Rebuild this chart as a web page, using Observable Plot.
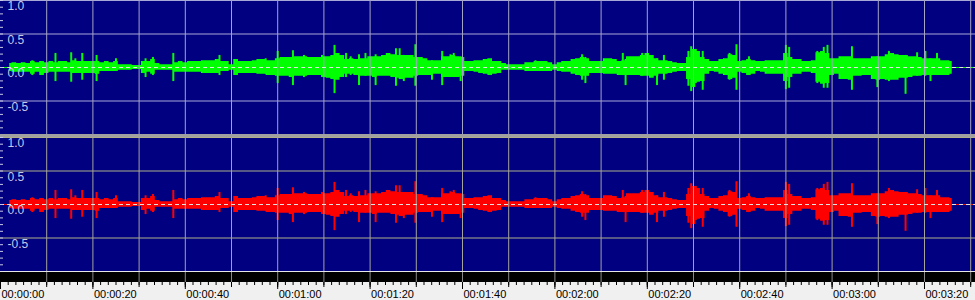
<!DOCTYPE html>
<html><head><meta charset="utf-8">
<script src="https://cdn.jsdelivr.net/npm/d3@7"></script>
<script src="https://cdn.jsdelivr.net/npm/@observablehq/plot@0.6"></script>
<style>
html,body{margin:0;padding:0;background:#f0f0f0;}
#chart{width:975px;height:300px;overflow:hidden;}
#chart svg{display:block;}
.sep{height:3px;background:#a0a0a0;}
.wline{height:1px;background:#e6e6e6;}
</style></head><body><div id="chart"></div>
<script>
// Waveform envelope, one value per second starting at t = 2 s (amplitude, full scale = 1)
const startTime = 2;
const upper = [
.06,.07,.06,.07,.06,.09,.07,.09,.07,.09,
.07,.09,.09,.07,.10,.09,.09,.09,.09,.09,
.07,.09,.07,.09,.04,.04,.04,.03,.03,.09,
.09,.12,.06,.04,.04,.04,.07,.09,.07,.09,
.09,.09,.10,.10,.10,.12,.09,.09,.04,.12,
.09,.09,.09,.10,.12,.12,.10,.10,.13,.15,
.15,.15,.16,.16,.16,.15,.15,.15,.16,.16,
.18,.21,.18,.12,.13,.12,.13,.13,.16,.16,
.16,.18,.21,.19,.18,.18,.18,.18,.15,.15,
.13,.10,.10,.10,.16,.16,.18,.16,.15,.09,
.09,.10,.10,.12,.13,.09,.09,.06,.04,.04,
.04,.04,.07,.07,.09,.09,.09,.07,.04,.07,
.09,.09,.12,.13,.15,.13,.09,.09,.09,.13,
.13,.12,.09,.10,.16,.16,.16,.18,.21,.18,
.13,.10,.10,.09,.07,.06,.06,.15,.27,.24,
.15,.12,.09,.09,.12,.13,.19,.18,.09,.10,
.12,.10,.09,.09,.10,.10,.10,.10,.21,.15,
.12,.12,.09,.09,.10,.22,.24,.21,.13,.13,
.16,.16,.16,.13,.13,.13,.13,.16,.16,.16,
.19,.21,.19,.18,.18,.16,.16,.15,.13,.13,
.13,.13,.10,.10,.09
];
const lower = [
.06,.07,.07,.07,.07,.10,.07,.12,.09,.07,
.07,.07,.07,.07,.09,.09,.09,.09,.09,.10,
.06,.06,.06,.06,.04,.04,.04,.03,.03,.09,
.07,.10,.04,.04,.04,.04,.07,.07,.07,.07,
.07,.07,.09,.09,.09,.09,.06,.06,.04,.12,
.09,.09,.09,.09,.10,.10,.12,.12,.13,.13,
.13,.15,.13,.13,.13,.12,.12,.12,.15,.16,
.18,.19,.15,.10,.10,.12,.13,.13,.13,.15,
.13,.13,.13,.15,.16,.18,.16,.16,.13,.12,
.12,.12,.10,.10,.15,.15,.15,.15,.13,.06,
.06,.07,.09,.10,.12,.10,.09,.04,.04,.04,
.04,.04,.06,.06,.06,.06,.06,.06,.04,.06,
.07,.07,.10,.12,.13,.13,.09,.09,.09,.10,
.10,.10,.12,.12,.12,.12,.12,.13,.13,.16,
.13,.10,.10,.09,.07,.06,.06,.18,.30,.22,
.21,.10,.06,.07,.10,.12,.18,.16,.07,.09,
.12,.10,.06,.07,.10,.10,.10,.10,.21,.15,
.10,.10,.07,.07,.09,.22,.25,.24,.12,.10,
.18,.18,.19,.13,.13,.12,.12,.18,.19,.18,
.19,.19,.19,.16,.16,.15,.13,.13,.12,.12,
.12,.12,.12,.12,.10
];
// Narrow peaks
const spikeTimes = [6.9,11.9,15.3,16.2,17.7,20.8,25.0,31.4,33.0,37.4,47.4,57.4,60.0,63.3,65.7,69.6,72.3,74.8,75.8,77.6,79.0,81.2,85.6,86.4,87.3,89.8,93.4,95.6,97.4,98.1,99.6,115.8,125.9,126.6,134.7,135.3,138.9,142.1,143.6,148.9,149.5,150.5,152.0,157.8,159.3,162.0,170.0,170.7,176.8,178.2,179.0,184.3,189.8,192.3,195.9,198.4,200.2,201.3,202.7];
const spikeUp    = [.10,.21,.22,.13,.21,.18,.13,.13,.15,.21,.18,.13,.24,.25,.18,.18,.33,.21,.16,.19,.21,.19,.28,.28,.18,.34,.10,.24,.19,.21,.16,.10,.19,.15,.21,.12,.21,.13,.18,.24,.31,.27,.24,.21,.34,.16,.33,.30,.24,.30,.33,.31,.16,.24,.18,.22,.24,.13,.21];
const spikeLow   = [.12,.21,.22,.09,.19,.21,.06,.15,.12,.21,.12,.10,.24,.27,.15,.13,.39,.15,.12,.27,.13,.27,.28,.18,.21,.28,.19,.27,.15,.15,.21,.06,.19,.24,.12,.27,.13,.27,.19,.28,.36,.24,.34,.19,.34,.12,.33,.31,.24,.31,.31,.34,.30,.21,.40,.13,.13,.21,.12];

const gridTimes = [10,20,30,40,50,60,70,80,90,100,110,120,130,140,150,160,170,180,190,200,210];
const yGrid = [1, 0.5, -0.5, -1];
const yLabelValues = [1, 0.5, 0, -0.5];
const yLabelText = ["1.0", "0.5", "0.0", "-0.5"];
const yMinor = [-1,-0.9,-0.8,-0.7,-0.6,-0.5,-0.4,-0.3,-0.2,-0.1,0,0.1,0.2,0.3,0.4,0.5,0.6,0.7,0.8,0.9,1];
const labelTimes = [0,20,40,60,80,100,120,140,160,180,200];
const timeLabels = ["00:00:00","00:00:20","00:00:40","00:01:00","00:01:20","00:01:40","00:02:00","00:02:20","00:02:40","00:03:00","00:03:20"];
const minorTimes = d3.range(0, 211, 10/6);

const xDomain = [0, 975 / 4.62];
const samples = upper.map((u, i) => ({t: startTime + i, up: u, low: -lower[i]}));
const spikes = spikeTimes.map((t, i) => ({t, up: spikeUp[i], low: -spikeLow[i]}));
const font = "'Liberation Sans', Arial, sans-serif";

function channel(color, hColor, vColor, textColor) {
  return Plot.plot({
    width: 975, height: 134, margin: 0,
    x: {domain: xDomain, axis: null},
    y: {domain: [-1, 1], axis: null},
    style: {background: "#000080", overflow: "hidden"},
    marks: [
      Plot.ruleY([0], {stroke: color}),
      Plot.areaY(samples, {x: "t", y1: "low", y2: "up", curve: "step", fill: color}),
      Plot.ruleX(spikes, {x: "t", y1: "low", y2: "up", stroke: color, strokeWidth: 2}),
      Plot.ruleY(yGrid, {stroke: hColor}),
      Plot.ruleX(gridTimes, {stroke: vColor}),
      Plot.ruleY([0], {stroke: "#e4e4e4", strokeDasharray: "4,3"}),
      Plot.tickY(yMinor, {y: d => d, insetRight: 972, stroke: textColor}),
      Plot.text(yLabelValues, {y: d => d, text: (d, i) => yLabelText[i], frameAnchor: "left", dx: 7, dy: 1,
        lineAnchor: "top", textAnchor: "start", fill: textColor, fontSize: 12, fontFamily: font})
    ]
  });
}

const band = Plot.plot({
  width: 975, height: 10, margin: 0,
  x: {domain: xDomain, axis: null},
  style: {background: "#000000"},
  marks: [Plot.ruleX(gridTimes, {stroke: "#8a8a8a"})]
});

const ruler = Plot.plot({
  width: 975, height: 18, margin: 0,
  x: {domain: xDomain, axis: null},
  style: {background: "#f0f0f0", overflow: "visible"},
  marks: [
    Plot.ruleX(minorTimes, {stroke: "#000", insetBottom: 15}),
    Plot.ruleX(gridTimes, {stroke: "#000", insetBottom: 13}),
    Plot.ruleX(labelTimes, {stroke: "#000", insetBottom: 11}),
    Plot.text(labelTimes, {x: d => d, text: (d, i) => timeLabels[i], frameAnchor: "bottom", lineAnchor: "bottom",
      dy: -3, dx: 1, textAnchor: "start", fill: "#000", fontSize: 11, fontFamily: font})
  ]
});

const root = document.getElementById("chart");
root.append(channel("#00ff00", "#a8a8d8", "#a4a4c4", "#c8c8e8"));
const sep = document.createElement("div"); sep.className = "sep"; root.append(sep);
root.append(channel("#ff0000", "#b0b088", "#a4a49c", "#c8c8e8"));
const wl = document.createElement("div"); wl.className = "wline"; root.append(wl);
root.append(band);
root.append(ruler);
</script></body></html>
